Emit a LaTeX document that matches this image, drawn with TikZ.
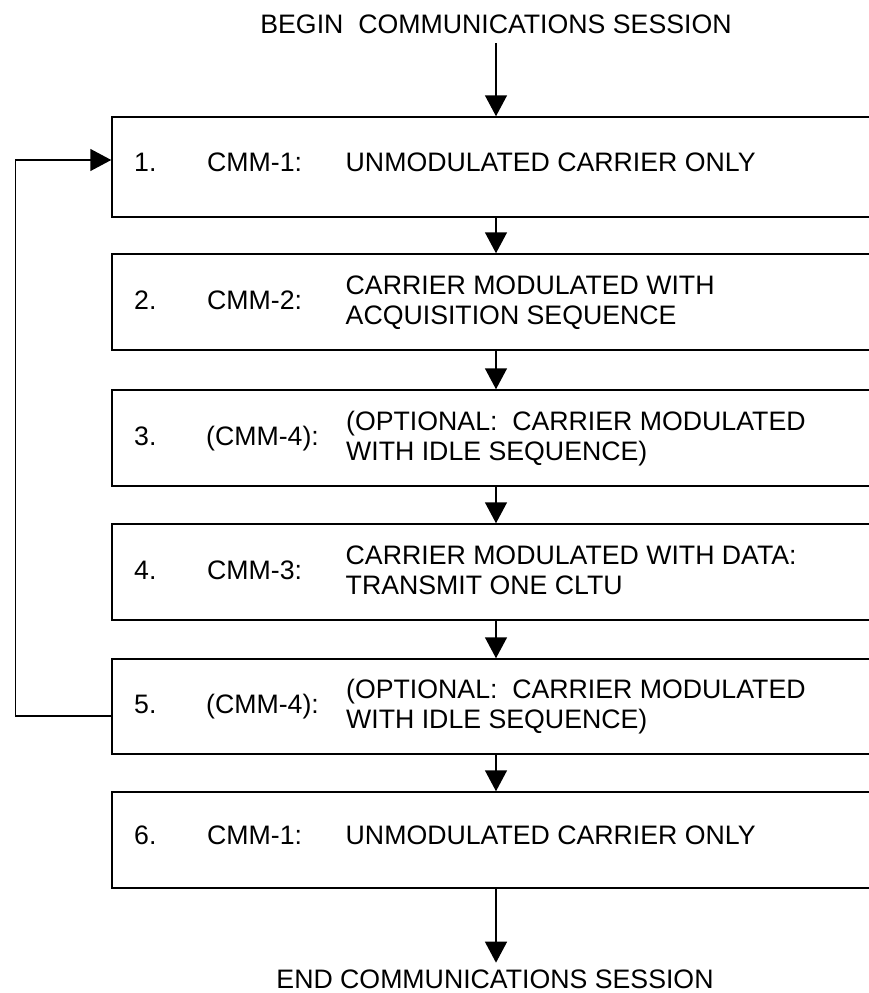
\documentclass[tikz,border=0pt]{standalone}
\usepackage{fontspec}
\setmainfont{Liberation Sans}
\usetikzlibrary{arrows.meta}
\tikzset{
  stagebox/.style={draw=black, line width=1.5pt, minimum width=768pt, inner sep=0pt},
  txt/.style={inner sep=0pt, font=\fontsize{26.7}{30.4}\selectfont, anchor=base west},
  endtxt/.style={inner sep=0pt, font=\fontsize{26.7}{30.4}\selectfont, anchor=base},
  flow/.style={line width=1.5pt, -{Triangle[length=21pt, width=22pt]}},
}
\begin{document}
\begin{tikzpicture}[x=1pt, y=-1pt]
\useasboundingbox (0,0) rectangle (869,993);
\fill[white] (0,0) rectangle (869,993);
\clip (0,0) rectangle (869,993);

% boxes (top, bottom)
\node[stagebox, minimum height=100pt] (b1) at (496,167) {};
\node[stagebox, minimum height=96pt]  (b2) at (496,302) {};
\node[stagebox, minimum height=96pt]  (b3) at (496,438) {};
\node[stagebox, minimum height=96pt]  (b4) at (496,572) {};
\node[stagebox, minimum height=95pt]  (b5) at (496,706.5) {};
\node[stagebox, minimum height=96pt]  (b6) at (496,840) {};

% begin / end
\node[endtxt] (begin) at (496,33) {BEGIN\ \ COMMUNICATIONS SESSION};
\node[endtxt] (end) at (495,988.5) {END COMMUNICATIONS SESSION};

% box 1
\node[txt] (n1) at (134,171.5) {1.};
\node[txt] (c1) at (207,171.5) {CMM-1:};
\node[txt] (d1) at (345.5,171.5) {UNMODULATED CARRIER ONLY};

% box 2
\node[txt] (n2) at (134,309) {2.};
\node[txt] (c2) at (207,309) {CMM-2:};
\node[txt] (d2a) at (345.5,294.5) {CARRIER MODULATED WITH};
\node[txt] (d2b) at (345.5,324.5) {ACQUISITION SEQUENCE};

% box 3
\node[txt] (n3) at (134,445) {3.};
\node[txt] (c3) at (206,445) {(CMM-4):};
\node[txt] (d3a) at (346,430.5) {(OPTIONAL:\ \ CARRIER MODULATED};
\node[txt] (d3b) at (346,460.5) {WITH IDLE SEQUENCE)};

% box 4
\node[txt] (n4) at (134,579) {4.};
\node[txt] (c4) at (207,579) {CMM-3:};
\node[txt] (d4a) at (345.5,564.5) {CARRIER MODULATED WITH DATA:};
\node[txt] (d4b) at (345.5,594.5) {TRANSMIT ONE CLTU};

% box 5
\node[txt] (n5) at (134,713) {5.};
\node[txt] (c5) at (206,713) {(CMM-4):};
\node[txt] (d5a) at (346,698.5) {(OPTIONAL:\ \ CARRIER MODULATED};
\node[txt] (d5b) at (346,728.5) {WITH IDLE SEQUENCE)};

% box 6
\node[txt] (n6) at (134,844.5) {6.};
\node[txt] (c6) at (207,844.5) {CMM-1:};
\node[txt] (d6) at (345.5,844.5) {UNMODULATED CARRIER ONLY};

% connectors
\draw[flow, shorten <=10pt] (begin.south -| b1.north) -- (b1.north);
\draw[flow] (b1) -- (b2);
\draw[flow] (b2) -- (b3);
\draw[flow] (b3) -- (b4);
\draw[flow] (b4) -- (b5);
\draw[flow] (b5) -- (b6);
\draw[flow, shorten >=7pt] (b6.south) -- (b6.south |- end.north);
\draw[flow] ([yshift=-9.5pt]b5.west) -- ++(-96,0) |- ([yshift=7pt]b1.west);
\end{tikzpicture}
\end{document}
